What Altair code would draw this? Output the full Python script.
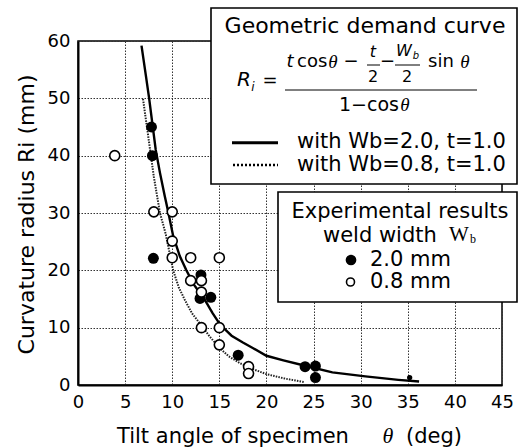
import altair as alt
import pandas as pd

# ---------------- data ----------------
solid_theta = [6.74, 7.2, 7.55, 7.9, 8.25, 8.7, 9.2, 9.6, 10.1, 10.8, 11.5, 12.3, 13.4, 14.3,
               15.1, 16.3, 17.5, 18.5, 20.0, 21.8, 24.0, 27.0, 30.5, 34.0, 36.2]
solid_R = [59.2, 54, 50, 45.5, 41, 37, 33, 30, 26, 22.5, 20, 17.5, 15, 12.5,
           10.5, 8.6, 7.4, 6.5, 5.1, 4.3, 3.4, 2.2, 1.5, 0.9, 0.6]

dotted_theta = [6.9, 7.4, 8.05, 8.7, 9.3, 10.1, 10.7, 11.35, 12.1, 12.95, 14.0, 15.07,
                16.0, 17.2, 18.5, 20.0, 22.0, 24.0]
dotted_R = [49.9, 44, 36.3, 30, 26.4, 20, 17, 14.8, 12.5, 10.7, 8.4, 6.4,
            5.0, 3.8, 2.8, 1.9, 1.1, 0.5]

filled_theta = [7.8, 7.9, 8.0, 13.05, 12.95, 14.1, 17.0, 24.1, 25.2, 25.2]
filled_R = [45, 40, 22.1, 19.2, 15.1, 15.3, 5.2, 3.2, 3.3, 1.3]
small_theta = [35.2]
small_R = [1.3]

open_theta = [3.9, 8.05, 10.0, 10.0, 10.0, 11.96, 15.0, 11.96, 13.1, 13.1, 13.1, 15.0, 15.0, 18.1, 18.1]
open_R = [40, 30.2, 30.2, 25.1, 22.2, 22.2, 22.2, 18.2, 18.2, 16.2, 10.0, 10.0, 7.0, 3.2, 2.0]

x_ticks = [0, 5, 10, 15, 20, 25, 30, 35, 40, 45]
y_ticks = [0, 10, 20, 30, 40, 50, 60]

y_title = "Curvature radius  Ri (mm)"
x_title_parts = ["Tilt angle of specimen", "θ", "(deg)"]
box1_title = "Geometric demand curve"
curve_labels = ["with Wb=2.0, t=1.0", "with Wb=0.8, t=1.0"]
box2_lines = ["Experimental results", "weld width", "W", "b"]
point_labels = ["2.0 mm", "0.8 mm"]

# ---------------- layout ----------------
OX, OY = 78, 41          # plot origin in the page
W, H = 424, 344
SANS = "DejaVu Sans"
SERIF = "Liberation Serif"

xs = alt.Scale(domain=[0, 45], nice=False, zero=False)
ys = alt.Scale(domain=[0, 60], nice=False)

xax = alt.Axis(values=x_ticks, ticks=False, labelPadding=8, labelFontSize=18, labelFont=SANS,
               labelColor="black", grid=True, gridDash=[1.5, 1.5], gridColor="#333", gridWidth=1,
               domainColor="black", domainWidth=2, title=None, labelFlush=False)
yax = alt.Axis(values=y_ticks, ticks=False, labelPadding=8, labelFontSize=18, labelFont=SANS,
               labelColor="black", grid=True, gridDash=[1.5, 1.5], gridColor="#333", gridWidth=1,
               domainColor="black", domainWidth=2, title=y_title, titleFont=SANS, titleFontSize=22,
               titleFontWeight="normal", titleColor="black", titleX=-52, titleY=173,
               titleAngle=270, titleAlign="center", titleBaseline="middle")

solid_df = pd.DataFrame({"theta": solid_theta, "R": solid_R, "i": range(len(solid_theta))})
dotted_df = pd.DataFrame({"theta": dotted_theta, "R": dotted_R, "i": range(len(dotted_theta))})
filled_df = pd.DataFrame({"theta": filled_theta, "R": filled_R})
small_df = pd.DataFrame({"theta": small_theta, "R": small_R})
open_df = pd.DataFrame({"theta": open_theta, "R": open_R})

solid = alt.Chart(solid_df).mark_line(color="black", strokeWidth=2.4).encode(
    x=alt.X("theta:Q", scale=xs, axis=xax),
    y=alt.Y("R:Q", scale=ys, axis=yax),
    order="i:Q")
dotted = alt.Chart(dotted_df).mark_line(color="#222", strokeWidth=2, strokeDash=[1.5, 1.2]).encode(
    x=alt.X("theta:Q", scale=xs), y=alt.Y("R:Q", scale=ys), order="i:Q")
filled = alt.Chart(filled_df).mark_point(filled=True, shape="circle", size=120, color="black",
                                         opacity=1).encode(
    x=alt.X("theta:Q", scale=xs), y=alt.Y("R:Q", scale=ys))
small = alt.Chart(small_df).mark_point(filled=True, shape="circle", size=28, color="black",
                                       opacity=1).encode(
    x=alt.X("theta:Q", scale=xs), y=alt.Y("R:Q", scale=ys))
opn = alt.Chart(open_df).mark_point(filled=False, shape="circle", size=100, stroke="black",
                                    strokeWidth=1.6, fill="white", fillOpacity=1, opacity=1).encode(
    x=alt.X("theta:Q", scale=xs), y=alt.Y("R:Q", scale=ys))

one = pd.DataFrame({"label": [""]})


def txt(s, x, y, size=21, align="left", style="normal", font=SANS):
    return alt.Chart(pd.DataFrame({"label": [s]})).mark_text(
        align=align, baseline="middle", fontSize=size, fontStyle=style, font=font,
        color="black").encode(x=alt.value(x - OX), y=alt.value(y - OY), text="label:N")


def box(x1, y1, x2, y2):
    return alt.Chart(one).mark_rect(fill="white", stroke="black", strokeWidth=1.6).encode(
        x=alt.value(x1 - OX), x2=alt.value(x2 - OX), y=alt.value(y1 - OY), y2=alt.value(y2 - OY))


def hline(x1, x2, y, width=1.2, dash=None):
    kw = dict(color="black", strokeWidth=width)
    if dash:
        kw["strokeDash"] = dash
    return alt.Chart(one).mark_rule(**kw).encode(
        x=alt.value(x1 - OX), x2=alt.value(x2 - OX), y=alt.value(y - OY))


def dot(x, y, size, filled):
    if filled:
        m = alt.Chart(one).mark_point(filled=True, shape="circle", size=size, color="black", opacity=1)
    else:
        m = alt.Chart(one).mark_point(filled=False, shape="circle", size=size, stroke="black",
                                      strokeWidth=1.6, fill="white", fillOpacity=1, opacity=1)
    return m.encode(x=alt.value(x - OX), y=alt.value(y - OY))


ann = [
    box(211, 8, 517, 184),
    txt(box1_title, 365, 26, size=22, align="center"),
    # formula R_i = (t cos θ - t/2 - Wb/2 sin θ) / (1 - cos θ)
    txt("R", 244, 80, size=20, align="center", style="italic"),
    txt("i", 253, 87, size=12, align="center", style="italic"),
    txt("=", 270, 81, size=18, align="center"),
    hline(285, 477, 90, width=1),
    txt("t", 290, 62, size=18, align="center", style="italic"),
    txt("cos", 297, 62, size=18),
    txt("θ", 333, 62, size=19, align="center", style="italic", font=SERIF),
    txt("−", 351, 62, size=18, align="center"),
    txt("t", 373, 52, size=16, align="center", style="italic"),
    hline(367, 380, 65, width=1),
    txt("2", 373, 77, size=16, align="center"),
    txt("−", 387.5, 62, size=18, align="center"),
    txt("W", 404, 51, size=16, align="center", style="italic"),
    txt("b", 416, 56, size=10, align="center", style="italic"),
    hline(395, 420, 65, width=1),
    txt("2", 407, 77, size=16, align="center"),
    txt("sin", 428, 62, size=18),
    txt("θ", 465, 62, size=19, align="center", style="italic", font=SERIF),
    txt("1−cos", 339, 105, size=19),
    txt("θ", 405, 105, size=19, align="center", style="italic", font=SERIF),
    # curve legend
    hline(232, 278, 142.7, width=3),
    hline(233, 278, 165, width=2.5, dash=[2, 2]),
    txt(curve_labels[0], 297, 141.5),
    txt(curve_labels[1], 297, 165),
    # experimental results box
    box(278, 192, 517, 302),
    txt(box2_lines[0], 400, 212, align="center"),
    txt(box2_lines[1], 323, 236),
    txt(box2_lines[2], 449, 235, font=SERIF),
    txt(box2_lines[3], 470, 239, size=12, font=SERIF),
    dot(351, 260, 115, True),
    dot(350.5, 282, 64, False),
    txt(point_labels[0], 370, 260),
    txt(point_labels[1], 370, 282),
    # x axis title
    txt(x_title_parts[0], 117, 437),
    txt(x_title_parts[1], 388, 436, size=22, align="center", style="italic", font=SERIF),
    txt(x_title_parts[2], 406, 437),
]

chart = alt.layer(solid, dotted, filled, small, opn, *ann).properties(
    width=W, height=H,
    autosize=alt.AutoSizeParams(type="none"),
    padding={"left": OX, "top": OY, "right": 522 - OX - W, "bottom": 448 - OY - H},
    background="white",
).configure_view(stroke="black", strokeWidth=1.5)

chart.save("out.html", embed_options={"renderer": "svg", "actions": False})
